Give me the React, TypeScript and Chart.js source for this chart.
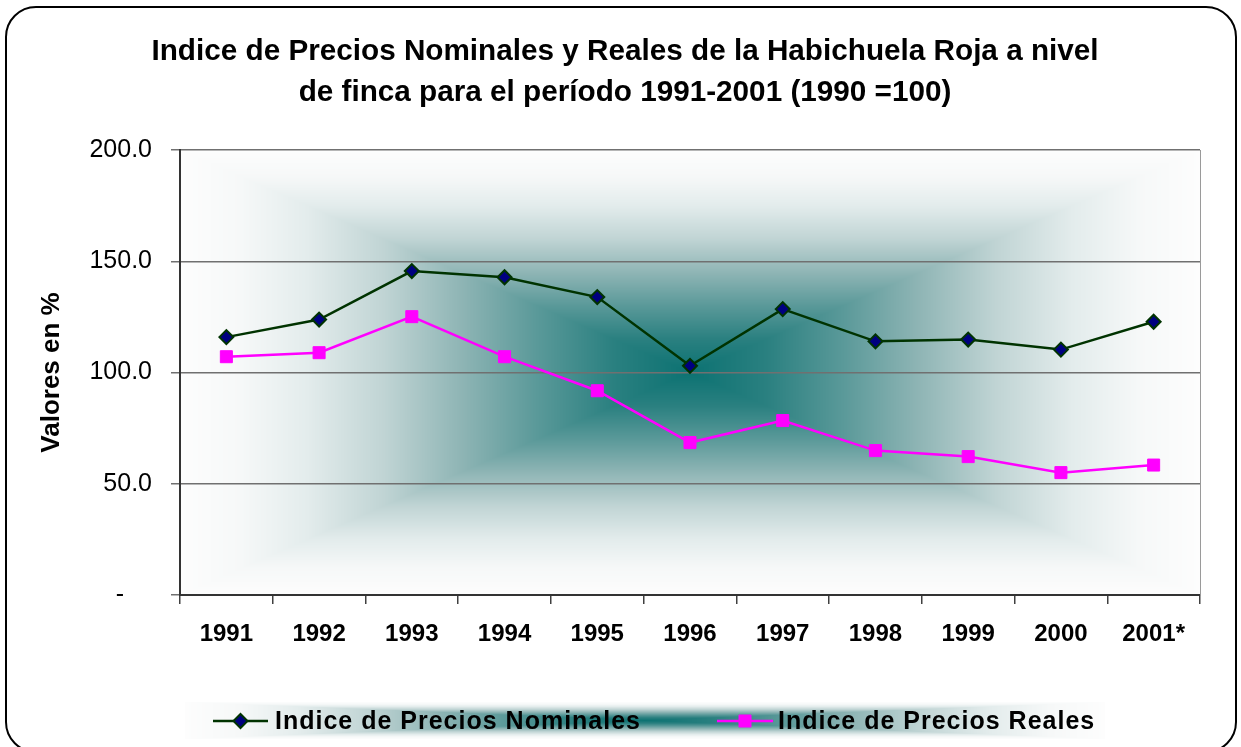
import { useEffect, useRef } from "react";
import { Chart, registerables } from "chart.js";

Chart.register(...registerables);

const categories = ["1991", "1992", "1993", "1994", "1995", "1996", "1997", "1998", "1999", "2000", "2001*"];
const nominalIndex = [115.9, 123.8, 145.6, 142.8, 133.9, 103.0, 128.5, 114.0, 114.8, 110.3, 122.8];
const realIndex = [107.1, 108.9, 125.1, 107.1, 91.8, 68.5, 78.4, 64.9, 62.2, 55.0, 58.4];
const seriesLabels = ["Indice de Precios Nominales", "Indice de Precios Reales"];
const titleLines = [
  "Indice de Precios Nominales y Reales de la Habichuela Roja a nivel",
  "de finca para el período 1991-2001 (1990 =100)",
];
const yAxisLabel = "Valores en %";
const yMin = 0;
const yMax = 200;
const yStep = 50;

const FONT = '"Liberation Sans", Arial, Helvetica, sans-serif';

const GRAD_STOPS: [number, number[]][] = [
  [0, [12, 114, 114]],
  [0.15, [42, 128, 128]],
  [0.3, [90, 153, 153]],
  [0.45, [143, 181, 181]],
  [0.6, [192, 212, 212]],
  [0.75, [227, 236, 236]],
  [0.88, [246, 248, 248]],
  [1, [253, 253, 253]],
];

function colorAt(t: number): number[] {
  if (t <= 0) return GRAD_STOPS[0][1];
  for (let k = 1; k < GRAD_STOPS.length; k++) {
    const [t1, c1] = GRAD_STOPS[k];
    if (t <= t1) {
      const [t0, c0] = GRAD_STOPS[k - 1];
      const f = (t - t0) / (t1 - t0);
      return [0, 1, 2].map((i) => c0[i] + (c1[i] - c0[i]) * f);
    }
  }
  return GRAD_STOPS[GRAD_STOPS.length - 1][1];
}

function paintRectGradient(ctx: CanvasRenderingContext2D, x: number, y: number, w: number, h: number) {
  const W = Math.max(1, Math.round(w));
  const H = Math.max(1, Math.round(h));
  const off = document.createElement("canvas");
  off.width = W;
  off.height = H;
  const octx = off.getContext("2d")!;
  const img = octx.createImageData(W, H);
  const hw = W / 2;
  const hh = H / 2;
  for (let j = 0; j < H; j++) {
    const dy = Math.abs(j + 0.5 - hh) / hh;
    for (let i = 0; i < W; i++) {
      const dx = Math.abs(i + 0.5 - hw) / hw;
      const c = colorAt(Math.max(dx, dy));
      const p = (j * W + i) * 4;
      img.data[p] = c[0];
      img.data[p + 1] = c[1];
      img.data[p + 2] = c[2];
      img.data[p + 3] = 255;
    }
  }
  octx.putImageData(img, 0, 0);
  ctx.drawImage(off, Math.round(x), Math.round(y));
}

const LEGEND_BOX = { x: 185, y: 702, w: 920, h: 37 };
const LEGEND_ITEMS = [
  { x0: 213, x1: 268, tx: 275 },
  { x0: 717, x1: 773, tx: 778 },
];
const LEGEND_Y = 721;

const backgroundPlugin = {
  id: "bgPlugin",
  beforeDraw(chart: any) {
    const { ctx, chartArea } = chart;
    ctx.save();
    ctx.fillStyle = "#ffffff";
    ctx.fillRect(0, 0, chart.width, chart.height);
    paintRectGradient(ctx, chartArea.left, chartArea.top, chartArea.right - chartArea.left, chartArea.bottom - chartArea.top);
    paintRectGradient(ctx, LEGEND_BOX.x, LEGEND_BOX.y, LEGEND_BOX.w, LEGEND_BOX.h);
    // outer rounded frame
    const x0 = 6, y0 = 7, x1 = 1236, y1 = 752, r = 30;
    ctx.beginPath();
    ctx.moveTo(x0 + r, y0);
    ctx.lineTo(x1 - r, y0);
    ctx.arcTo(x1, y0, x1, y0 + r, r);
    ctx.lineTo(x1, y1 - r);
    ctx.arcTo(x1, y1, x1 - r, y1, r);
    ctx.lineTo(x0 + r, y1);
    ctx.arcTo(x0, y1, x0, y1 - r, r);
    ctx.lineTo(x0, y0 + r);
    ctx.arcTo(x0, y0, x0 + r, y0, r);
    ctx.closePath();
    ctx.lineWidth = 2;
    ctx.strokeStyle = "#000000";
    ctx.stroke();
    ctx.restore();
  },
  beforeDatasetsDraw(chart: any) {
    const { ctx, chartArea } = chart;
    ctx.save();
    ctx.strokeStyle = "#9a9a9a";
    ctx.lineWidth = 1;
    ctx.beginPath();
    ctx.moveTo(chartArea.right + 0.5, chartArea.top);
    ctx.lineTo(chartArea.right + 0.5, chartArea.bottom);
    ctx.stroke();
    ctx.restore();
  },
  afterDraw(chart: any) {
    const { ctx } = chart;
    ctx.save();
    chart.data.datasets.forEach((ds: any, i: number) => {
      const it = LEGEND_ITEMS[i];
      if (!it) return;
      ctx.strokeStyle = ds.borderColor;
      ctx.lineWidth = ds.borderWidth;
      ctx.beginPath();
      ctx.moveTo(it.x0, LEGEND_Y);
      ctx.lineTo(it.x1, LEGEND_Y);
      ctx.stroke();
      const cx = (it.x0 + it.x1) / 2;
      ctx.fillStyle = ds.pointBackgroundColor;
      ctx.strokeStyle = ds.pointBorderColor;
      ctx.lineWidth = ds.pointBorderWidth;
      ctx.beginPath();
      if (ds.pointStyle === "rectRot") {
        const r = ds.pointRadius;
        ctx.moveTo(cx - r, LEGEND_Y);
        ctx.lineTo(cx, LEGEND_Y - r);
        ctx.lineTo(cx + r, LEGEND_Y);
        ctx.lineTo(cx, LEGEND_Y + r);
        ctx.closePath();
      } else {
        const s = ds.pointRadius * Math.SQRT1_2;
        ctx.rect(cx - s, LEGEND_Y - s, 2 * s, 2 * s);
      }
      ctx.fill();
      ctx.stroke();
      ctx.fillStyle = "#000000";
      ctx.font = `bold 25px ${FONT}`;
      (ctx as any).letterSpacing = "1px";
      ctx.textAlign = "left";
      ctx.textBaseline = "alphabetic";
      ctx.fillText(ds.label, it.tx, LEGEND_Y + 8);
      (ctx as any).letterSpacing = "0px";
    });
    ctx.restore();
  },
};

export default function App() {
  const ref = useRef<HTMLCanvasElement | null>(null);

  useEffect(() => {
    if (!ref.current) return;
    const chart = new Chart(ref.current, {
      type: "line",
      data: {
        labels: categories,
        datasets: [
          {
            label: seriesLabels[0],
            data: nominalIndex,
            borderColor: "#003300",
            borderWidth: 2.5,
            pointStyle: "rectRot",
            pointRadius: 7,
            pointBackgroundColor: "#000080",
            pointBorderColor: "#003300",
            pointBorderWidth: 2,
            tension: 0,
            fill: false,
          },
          {
            label: seriesLabels[1],
            data: realIndex,
            borderColor: "#ff00ff",
            borderWidth: 2.5,
            pointStyle: "rect",
            pointRadius: 8.5,
            pointBackgroundColor: "#ff00ff",
            pointBorderColor: "#ff00ff",
            pointBorderWidth: 1,
            tension: 0,
            fill: false,
          },
        ],
      },
      options: {
        responsive: false,
        animation: false,
        devicePixelRatio: 1,
        layout: { padding: { left: 50, right: 41, top: 0, bottom: 92 } },
        plugins: {
          legend: { display: false },
          tooltip: { enabled: false },
          title: {
            display: true,
            text: titleLines,
            color: "#000000",
            font: { family: FONT, size: 29.7, weight: "bold", lineHeight: 41 / 29.7 },
            padding: { top: 31, bottom: 37 },
          },
        },
        scales: {
          x: {
            type: "category",
            offset: true,
            grid: { offset: true, drawOnChartArea: false, drawTicks: true, tickLength: 9, color: "#404040", lineWidth: 1.5 },
            border: { display: true, color: "#333333", width: 2 },
            ticks: { font: { family: FONT, size: 24, weight: "bold" }, color: "#000000", padding: 16, maxRotation: 0, autoSkip: false },
            afterFit: (a: any) => {
              a.height = 60;
            },
          },
          y: {
            min: yMin,
            max: yMax,
            ticks: {
              stepSize: yStep,
              callback: (v: any) => (Number(v) === 0 ? "-\u2007\u2007" : Number(v).toFixed(1)),
              font: { family: FONT, size: 25 },
              color: "#000000",
              padding: 19,
            },
            grid: { color: "#707070", lineWidth: 1.5, tickLength: 9 },
            border: { display: true, color: "#333333", width: 2 },
            title: {
              display: true,
              text: yAxisLabel,
              color: "#000000",
              font: { family: FONT, size: 26, weight: "bold", lineHeight: 1.2 },
              padding: { top: -13.6, bottom: 0 },
            },
            afterFit: (a: any) => {
              a.width = 130;
            },
          },
        },
      },
      plugins: [backgroundPlugin],
    } as any);
    return () => chart.destroy();
  }, []);

  return (
    <canvas
      ref={ref}
      width={1241}
      height={747}
      style={{ position: "fixed", left: 0, top: 0, width: 1241, height: 747 }}
    />
  );
}
